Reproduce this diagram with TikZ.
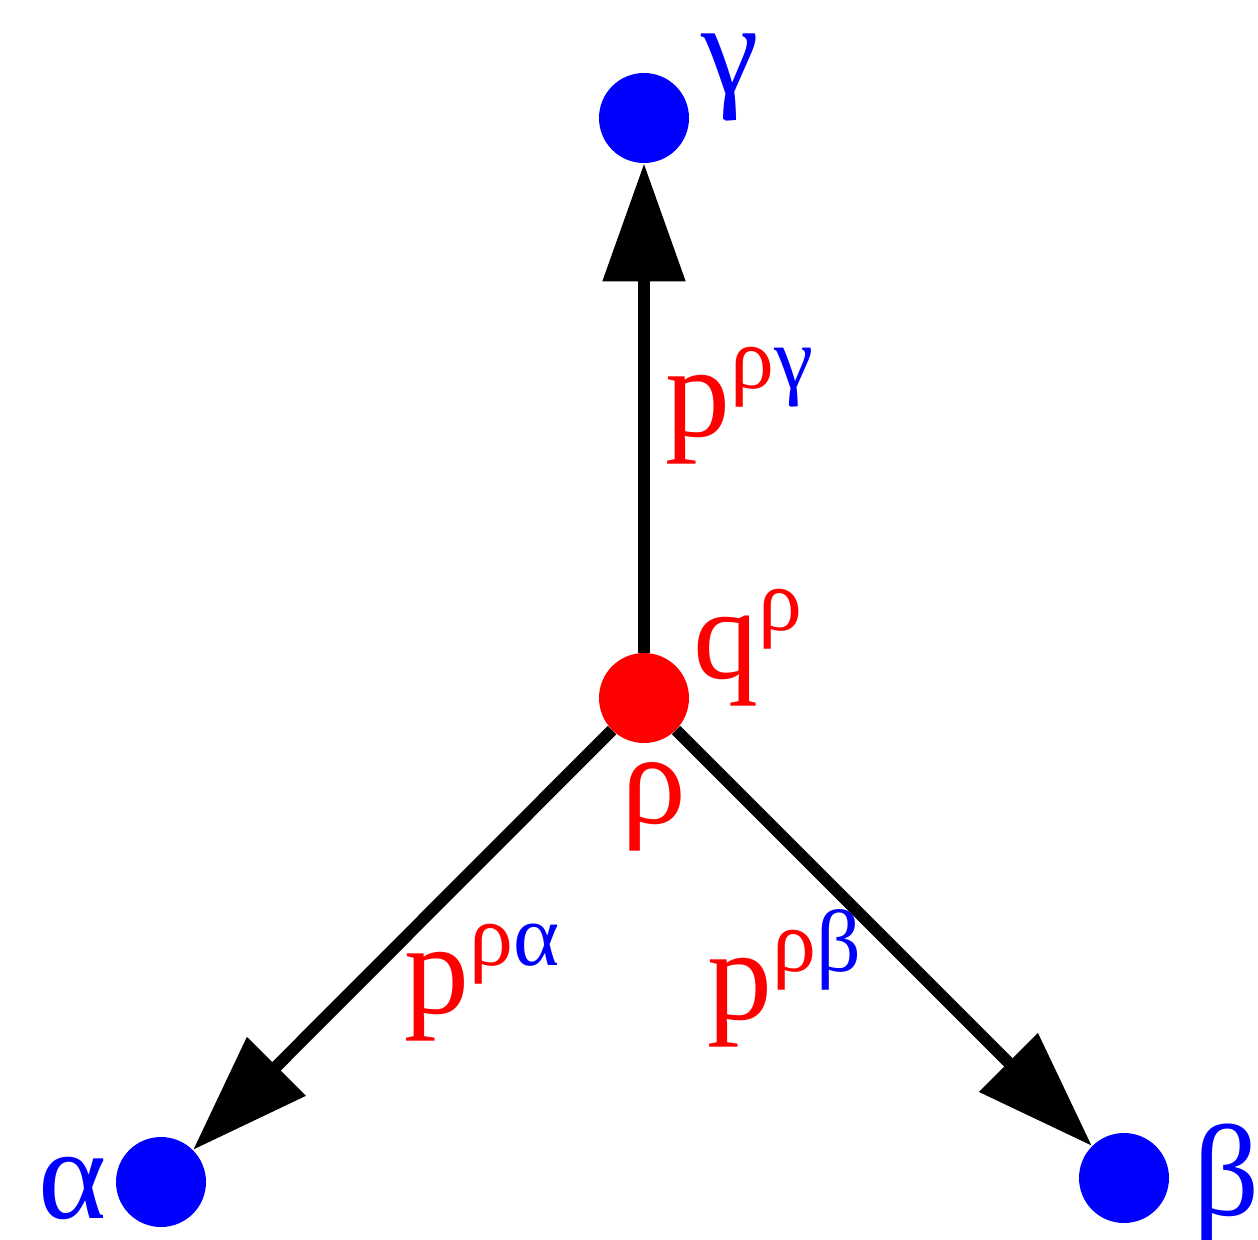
\documentclass[tikz,border=0pt]{standalone}
\usepackage{fontspec}
\setmainfont{Liberation Serif}
\usetikzlibrary{arrows.meta}
\newcommand{\supr}[1]{{\fontsize{44}{50}\selectfont\raisebox{24pt}{#1}}}

\begin{document}
\begin{tikzpicture}[
	x=0.5pt, y=-0.5pt,
	>={Triangle[length=59pt, width=40pt]},
	% Styles for the vertices, edges and labels
	vertex/.style={circle, fill=blue, inner sep=0pt, minimum size=45pt},
	hub/.style={vertex, fill=red},
	edge/.style={->, line width=6pt, black},
	biglabel/.style={font=\fontsize{65}{78}\selectfont, inner sep=0pt, anchor=base west}
	]
	\useasboundingbox (0,0) rectangle (1258,1239);
	
	% Vertices
	\node[hub] (rho) at (644,698) {};
	\node[vertex] (gamma) at (644,118) {};
	\node[vertex] (alpha) at (161,1182) {};
	\node[vertex] (beta) at (1124,1178) {};
	
	% Edges
	\draw[edge] (rho) -- (gamma);
	\draw[edge] (rho) -- (alpha);
	\draw[edge] (rho) -- (beta);
	
	% Vertex labels
	\node[biglabel, text=blue] (labgamma) at (701,93) {γ};
	\node[biglabel, text=blue] (labalpha) at (38,1218) {α};
	\node[biglabel, text=blue] (labbeta) at (1193,1215) {β};
	\node[biglabel, text=red] (labrho) at (621,823) {ρ};
	\node[biglabel, text=red] (labq) at (693,678) {q\supr{ρ}};
	
	% Edge labels
	\node[biglabel, text=red] (labpg) at (665,436) {p\supr{ρ\textcolor{blue}{γ}}};
	\node[biglabel, text=red] (labpa) at (404,1013) {p\supr{ρ\textcolor{blue}{α}}};
	\node[biglabel, text=red] (labpb) at (707,1019) {p\supr{ρ\textcolor{blue}{β}}};
\end{tikzpicture}
\end{document}
